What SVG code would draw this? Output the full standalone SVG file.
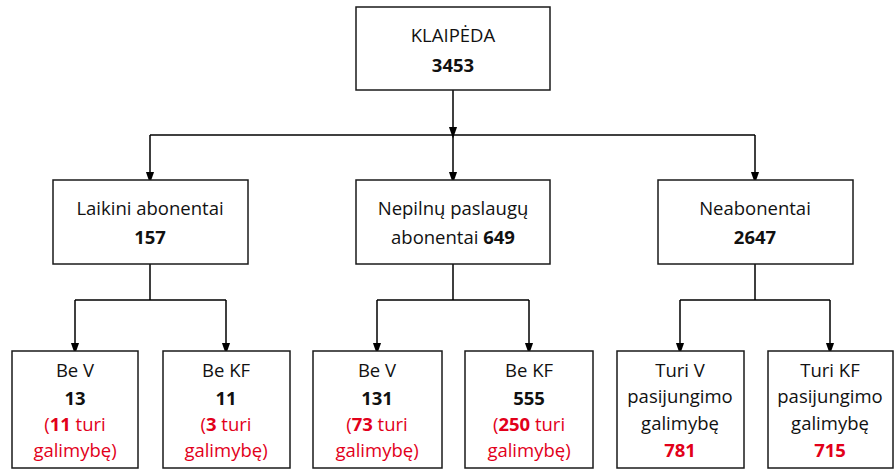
<svg xmlns="http://www.w3.org/2000/svg" width="894" height="469" viewBox="0 0 894 469">
<defs>
<marker id="arr" markerWidth="12" markerHeight="17" refX="12" refY="6" orient="auto" markerUnits="userSpaceOnUse" viewBox="0 0 17 12">
<path d="M0,0 L17,6 L0,12 Z" fill="#000"/>
</marker>
</defs>
<style>
.box{fill:#fff;stroke:#1a1a1a;stroke-width:1.5}
.ln{fill:none;stroke:#000;stroke-width:1.5}
text{font-family:"Open Sans","Liberation Sans",Arial,sans-serif;font-size:18.5px;fill:#111;text-anchor:middle}
.b{font-weight:bold}
.r{fill:#e2001a}
</style>
<rect width="894" height="469" fill="#fff"/>
<g id="connectors">
<path class="ln" d="M453,90 V135" marker-end="url(#arr)"/>
<path class="ln" d="M150,135 H755"/>
<path class="ln" d="M150,135 V180" marker-end="url(#arr)"/>
<path class="ln" d="M453,135 V180" marker-end="url(#arr)"/>
<path class="ln" d="M755,135 V180" marker-end="url(#arr)"/>
<path class="ln" d="M150,264 V300 M75,300 H226"/>
<path class="ln" d="M75,300 V351" marker-end="url(#arr)"/>
<path class="ln" d="M226,300 V351" marker-end="url(#arr)"/>
<path class="ln" d="M453,264 V300 M377,300 H529"/>
<path class="ln" d="M377,300 V351" marker-end="url(#arr)"/>
<path class="ln" d="M529,300 V351" marker-end="url(#arr)"/>
<path class="ln" d="M755,264 V300 M680,300 H830"/>
<path class="ln" d="M680,300 V351" marker-end="url(#arr)"/>
<path class="ln" d="M830,300 V351" marker-end="url(#arr)"/>
</g>
<g id="klaipeda">
<rect class="box" x="356" y="7" width="194" height="83"/>
<text x="453" y="42">KLAIPĖDA</text>
<text class="b" x="453" y="72">3453</text>
</g>
<g id="laikini">
<rect class="box" x="53" y="180" width="195" height="84"/>
<text x="150" y="215">Laikini abonentai</text>
<text class="b" x="150" y="244">157</text>
</g>
<g id="nepilnu">
<rect class="box" x="356" y="180" width="194" height="84"/>
<text x="453" y="215">Nepilnų paslaugų</text>
<text x="453" y="244">abonentai <tspan class="b">649</tspan></text>
</g>
<g id="neabonentai">
<rect class="box" x="658" y="180" width="195" height="84"/>
<text x="755" y="215">Neabonentai</text>
<text class="b" x="755" y="244">2647</text>
</g>
<g id="laikini-bev">
<rect class="box" x="12" y="351" width="126" height="117"/>
<text x="75" y="377">Be V</text>
<text class="b" x="75" y="405">13</text>
<text class="r" x="75" y="431">(<tspan class="b">11</tspan> turi</text>
<text class="r" x="75" y="457">galimybę)</text>
</g>
<g id="laikini-bekf">
<rect class="box" x="163" y="351" width="127" height="117"/>
<text x="226" y="377">Be KF</text>
<text class="b" x="226" y="405">11</text>
<text class="r" x="226" y="431">(<tspan class="b">3</tspan> turi</text>
<text class="r" x="226" y="457">galimybę)</text>
</g>
<g id="nepilnu-bev">
<rect class="box" x="313" y="351" width="129" height="117"/>
<text x="377" y="377">Be V</text>
<text class="b" x="377" y="405">131</text>
<text class="r" x="377" y="431">(<tspan class="b">73</tspan> turi</text>
<text class="r" x="377" y="457">galimybę)</text>
</g>
<g id="nepilnu-bekf">
<rect class="box" x="465" y="351" width="128" height="117"/>
<text x="529" y="377">Be KF</text>
<text class="b" x="529" y="405">555</text>
<text class="r" x="529" y="431">(<tspan class="b">250</tspan> turi</text>
<text class="r" x="529" y="457">galimybę)</text>
</g>
<g id="turi-v">
<rect class="box" x="617" y="351" width="127" height="117"/>
<text x="680" y="377">Turi V</text>
<text x="680" y="403">pasijungimo</text>
<text x="680" y="430">galimybę</text>
<text class="b r" x="680" y="457">781</text>
</g>
<g id="turi-kf">
<rect class="box" x="768" y="351" width="125" height="117"/>
<text x="830" y="377">Turi KF</text>
<text x="830" y="403">pasijungimo</text>
<text x="830" y="430">galimybę</text>
<text class="b r" x="830" y="457">715</text>
</g>
</svg>
